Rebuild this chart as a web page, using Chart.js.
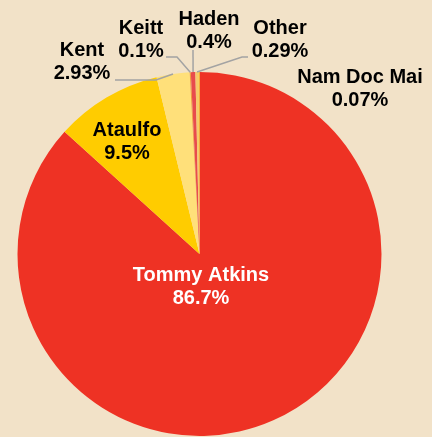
<!DOCTYPE html>
<html lang="en">
<head>
    <meta charset="UTF-8">
    <title>Mango varieties share</title>
    <style>
        html, body {
            margin: 0;
            padding: 0;
            background: #f2e2c8;
        }
        canvas {
            display: block;
        }
    </style>
</head>
<body>
    <canvas id="myChart" width="432" height="437"></canvas>

    <script src="https://cdn.jsdelivr.net/npm/chart.js"></script>
    <script>
        const varieties = ['Tommy Atkins', 'Ataulfo', 'Kent', 'Keitt', 'Haden', 'Other', 'Nam Doc Mai'];
        const shares = [86.7, 9.5, 2.93, 0.1, 0.4, 0.29, 0.07];
        const shareLabels = ['86.7%', '9.5%', '2.93%', '0.1%', '0.4%', '0.29%', '0.07%'];

        const sliceColors = ['#ee3224', '#ffcc00', '#ffe07a', '#f29a3a', '#e84c4c', '#f7c96a', '#ffcc00'];

        // where each label sits (text centre) and the bend points of its leader line
        const labelLayout = [
            { x: 201, y: 275, color: '#ffffff' },
            { x: 127, y: 130 },
            { x: 82, y: 50, line: [[115, 80], [156, 80]] },
            { x: 141, y: 28, line: [[166, 57], [177, 57]] },
            { x: 209, y: 19, line: [[193, 50]] },
            { x: 280, y: 28, line: [[248, 57], [242, 57]] },
            { x: 360, y: 77 }
        ];

        const labelPlugin = {
            id: 'sliceLabels',
            afterDatasetsDraw(chart) {
                const ctx = chart.ctx;
                const arcs = chart.getDatasetMeta(0).data;
                ctx.save();
                arcs.forEach((arc, i) => {
                    const pos = labelLayout[i];
                    if (pos.line) {
                        const p = arc.getProps(['x', 'y', 'startAngle', 'endAngle', 'outerRadius'], true);
                        const mid = (p.startAngle + p.endAngle) / 2;
                        const ex = p.x + Math.cos(mid) * p.outerRadius;
                        const ey = p.y + Math.sin(mid) * p.outerRadius;
                        ctx.strokeStyle = '#a3a3a3';
                        ctx.lineWidth = 1.5;
                        ctx.beginPath();
                        pos.line.forEach((pt, k) => k === 0 ? ctx.moveTo(pt[0], pt[1]) : ctx.lineTo(pt[0], pt[1]));
                        ctx.lineTo(ex, ey);
                        ctx.stroke();
                    }
                    ctx.fillStyle = pos.color || '#000000';
                    ctx.font = 'bold 20px "Liberation Sans", Arial, sans-serif';
                    ctx.textAlign = 'center';
                    ctx.textBaseline = 'middle';
                    ctx.fillText(varieties[i], pos.x, pos.y);
                    ctx.fillText(shareLabels[i], pos.x, pos.y + 23);
                });
                ctx.restore();
            }
        };

        const ctx = document.getElementById('myChart').getContext('2d');
        const myChart = new Chart(ctx, {
            type: 'pie',
            data: {
                labels: varieties,
                datasets: [{
                    data: shares,
                    backgroundColor: sliceColors,
                    borderWidth: 0
                }]
            },
            options: {
                responsive: false,
                animation: false,
                layout: {
                    padding: { left: 17.5, right: 50.5, top: 72, bottom: 1 }
                },
                plugins: {
                    legend: { display: false },
                    tooltip: { enabled: false }
                }
            },
            plugins: [labelPlugin]
        });
    </script>
</body>
</html>
